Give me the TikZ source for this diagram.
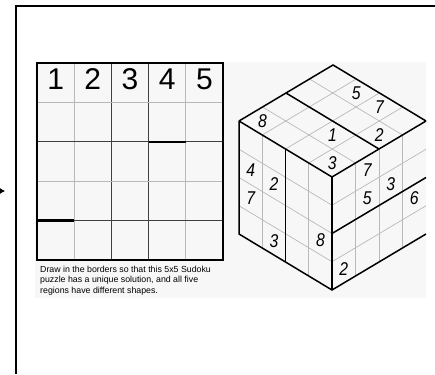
\documentclass[tikz,border=0pt]{standalone}
\usepackage{fontspec}
\setmainfont{Liberation Sans}
\usetikzlibrary{arrows.meta}

\begin{document}
\begin{tikzpicture}[
    x=1pt, y=-1pt,
    >={Latex[length=5pt, width=6pt]},
    frame/.style={draw=black, line width=2pt},
    thin grid/.style={draw=gray!55, line width=0.7pt},
    mid grid/.style={draw=black!75, line width=1.1pt},
    wall/.style={draw=black, line width=2.6pt},
    edge/.style={draw=black, line width=1.5pt},
    clue/.style={font=\fontsize{30}{30}\selectfont, inner sep=0pt},
    given/.style={font=\fontsize{18.5}{18.5}\selectfont\itshape, inner sep=0pt,
                  xscale=0.85}
  ]
  \useasboundingbox (0,0) rectangle (435,374);
  % frame and incoming arrow
  \draw[frame] (16,374) -- (16,6) -- (435,6);
  \coordinate (tail) at (-3,191);
  \coordinate (tip) at (5,191);
  \draw[->, line width=1pt] (tail) -- (tip);
  \fill[black!3] (35,62) rectangle (426,298);

  % flat 5x5 grid
  \foreach \c in {1,4}
    \draw[thin grid] (37+37.2*\c,63) -- (37+37.2*\c,260);
  \foreach \c in {2,3}
    \draw[mid grid] (37+37.2*\c,63) -- (37+37.2*\c,260);
  \foreach \r in {1,3}
    \draw[thin grid] (37,63+39.4*\r) -- (223,63+39.4*\r);
  \foreach \r in {2,4}
    \draw[mid grid] (37,63+39.4*\r) -- (223,63+39.4*\r);
  \draw[wall] (148.6,141.8) -- (185.8,141.8);
  \draw[wall] (37,220.6) -- (74.2,220.6);
  \draw[wall] (37,63) rectangle (223,260);
  \foreach \d in {1,...,5}
    \node[clue] (top\d) at (37+37.2*\d-18.6,79) {\d};
  \node[anchor=north west, align=left, inner sep=0pt,
        font=\fontsize{8.8}{10.6}\selectfont] (note) at (40,265.5)
    {Draw in the borders so that this 5x5 Sudoku\\
     puzzle has a unique solution, and all five\\
     regions have different shapes.};

  % cube, 4x4 on each face
  \begin{scope}[shift={(332,177)}, x={(-23.25pt,14pt)}, y={(23.5pt,14pt)},
                z={(0pt,-28.25pt)}]
    \foreach \n in {1,2,3} {
      \draw[thin grid] (\n,0,0) -- (\n,4,0);
      \draw[thin grid] (0,\n,0) -- (4,\n,0);
      \draw[thin grid] (\n,0,0) -- (\n,0,4);
      \draw[thin grid] (0,0,\n) -- (4,0,\n);
      \draw[thin grid] (0,\n,0) -- (0,\n,4);
      \draw[thin grid] (0,0,\n) -- (0,4,\n);
    }
    % region borders
    \draw[edge] (4,2,0) -- (0,2,0);
    \draw[edge] (2,0,0) -- (2,0,4);
    \draw[edge] (0,0,2) -- (0,4,2);
    % outline
    \draw[edge] (4,0,0) -- (4,4,0) -- (0,4,0);
    \draw[edge] (4,0,0) -- (0,0,0) -- (0,4,0);
    \draw[edge] (0,0,0) -- (0,0,4);
    \draw[edge] (4,0,0) -- (4,0,4) -- (0,0,4) -- (0,4,4);
    % given digits
    \foreach \i/\j/\d [count=\n] in {3/0/8, 1/1/1, 0/2/2, 1/3/7, 2/3/5, 0/0/3}
      \node[given] (up\n) at (\i+.5,\j+.5,0) {\d};
    \foreach \i/\k/\d [count=\n] in {3/1/4, 2/1/2, 3/2/7, 2/3/3, 0/2/8}
      \node[given] (lf\n) at (\i+.5,0,\k+.5) {\d};
    \foreach \j/\k/\d [count=\n] in {1/0/7, 1/1/5, 2/1/3, 3/2/6, 0/3/2}
      \node[given] (rt\n) at (0,\j+.5,\k+.5) {\d};
  \end{scope}
\end{tikzpicture}
\end{document}
